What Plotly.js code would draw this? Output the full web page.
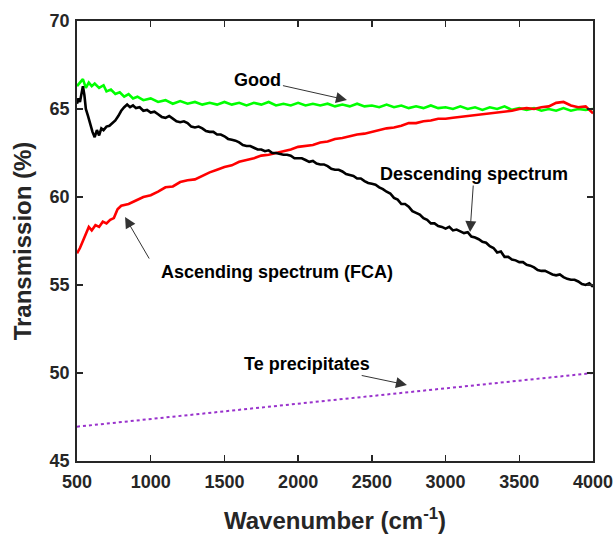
<!DOCTYPE html>
<html>
<head>
<meta charset="utf-8">
<script src="https://cdn.plot.ly/plotly-3.0.1.min.js"></script>
<style>html,body{margin:0;padding:0;background:#fff;}#chart{width:613px;height:534px;}</style>
</head>
<body>
<div id="chart"></div>
<script>
// Good (green)
const goodX = [500,520,540,560,580,600,620,650,680,700,730,760,790,820,850,880,910,950,1000,1050,1100,1150,1200,1250,1300,1350,1400,1450,1500,1550,1600,1650,1700,1750,1800,1850,1900,1950,2000,2050,2100,2150,2200,2250,2300,2350,2400,2450,2500,2550,2600,2650,2700,2750,2800,2850,2900,2950,3000,3050,3100,3150,3200,3250,3300,3350,3400,3450,3500,3550,3600,3650,3700,3750,3800,3850,3900,3950,4000];
const goodY = [66.3,66.5,66.7,66.2,66.5,66.3,66.45,66.2,66.35,66.0,66.1,65.85,65.95,65.7,65.85,65.6,65.7,65.5,65.6,65.4,65.5,65.3,65.45,65.3,65.4,65.25,65.35,65.25,65.4,65.25,65.35,65.2,65.35,65.25,65.4,65.2,65.3,65.2,65.35,65.2,65.3,65.2,65.3,65.15,65.25,65.15,65.3,65.15,65.2,65.1,65.25,65.1,65.2,65.05,65.15,65.05,65.2,65.05,65.1,65.0,65.15,65.0,65.1,64.95,65.1,65.0,65.15,64.95,65.05,64.95,65.05,64.9,65.0,64.9,65.05,64.9,65.0,64.95,65.0];

// Descending spectrum (black)
const descX = [500,510,520,530,540,550,560,575,590,605,620,635,650,665,680,700,720,740,760,780,800,820,840,860,880,900,925,950,975,
  1000,1025,1050,1075,1100,1125,1150,1175,1200,1225,1250,1275,1300,1325,1350,1375,1400,1425,1450,1475,1500,1525,1550,1575,1600,1625,1650,1675,1700,1725,1750,1775,1800,1825,1850,1875,1900,1925,1950,1975,
  2000,2025,2050,2075,2100,2125,2150,2175,2200,2225,2250,2275,2300,2325,2350,2375,2400,2425,2450,2475,2500,2525,2550,2575,2600,2625,2650,2675,2700,2725,2750,2775,2800,2825,2850,2875,2900,2925,2950,2975,
  3000,3025,3050,3075,3100,3125,3150,3175,3200,3225,3250,3275,3300,3325,3350,3375,3400,3425,3450,3475,3500,3525,3550,3575,3600,3625,3650,3675,3700,3725,3750,3775,3800,3825,3850,3875,3900,3925,3950,3975,4000];
const descY = [65.3,65.6,65.4,65.9,66.3,65.8,65.0,64.6,64.1,63.7,63.4,63.8,63.5,63.9,63.8,64.0,64.05,64.2,64.35,64.6,64.9,65.1,65.25,65.1,65.2,65.05,65.1,64.9,64.95,
  64.8,64.85,64.7,64.55,64.5,64.6,64.45,64.3,64.25,64.3,64.2,64.0,63.95,64.0,63.9,63.75,63.7,63.7,63.55,63.55,63.45,63.3,63.25,63.2,63.1,62.95,62.9,62.9,62.8,62.7,62.7,62.6,62.65,62.5,62.5,62.45,62.4,62.4,62.35,62.2,
  62.2,62.2,62.1,62.0,62.05,61.9,61.85,61.85,61.75,61.6,61.55,61.55,61.45,61.3,61.25,61.2,61.05,61.05,60.9,60.8,60.75,60.7,60.55,60.45,60.3,60.2,59.95,59.85,59.6,59.6,59.45,59.2,59.1,59.0,58.8,58.7,58.5,58.5,58.35,58.3,
  58.2,58.3,58.1,58.15,58.05,57.95,58.0,57.75,57.7,57.6,57.45,57.4,57.2,57.1,56.85,56.9,56.6,56.6,56.45,56.4,56.3,56.3,56.15,56.1,56.0,55.85,55.8,55.8,55.7,55.6,55.55,55.6,55.45,55.35,55.3,55.3,55.2,55.05,55.0,55.1,54.9];

// Ascending spectrum (FCA) (red)
const ascX = [500,520,540,560,580,600,625,650,675,700,725,750,775,800,850,900,950,1000,1050,1100,1150,1200,1250,1300,1350,1400,1450,1500,1550,1600,1650,1700,1750,1800,1850,1900,1950,2000,2050,2100,2150,2200,2250,2300,2350,2400,2450,2500,2550,2600,2650,2700,2750,2800,2850,2900,2950,3000,3050,3100,3150,3200,3250,3300,3350,3400,3450,3500,3550,3600,3650,3700,3750,3800,3850,3900,3950,4000];
const ascY = [56.8,57.1,57.5,57.9,58.3,58.1,58.4,58.3,58.6,58.5,58.7,58.8,59.3,59.5,59.6,59.8,60.0,60.1,60.3,60.55,60.6,60.85,60.95,61.0,61.2,61.4,61.55,61.7,61.8,62.0,62.1,62.2,62.35,62.4,62.5,62.6,62.7,62.85,62.9,62.95,63.1,63.15,63.3,63.35,63.45,63.55,63.6,63.7,63.8,63.9,63.95,64.05,64.2,64.2,64.3,64.35,64.45,64.45,64.5,64.55,64.6,64.65,64.7,64.75,64.8,64.85,64.9,65.0,65.05,65.0,65.1,65.15,65.35,65.4,65.2,65.1,65.15,64.75];

// Te precipitates (purple dotted)
const teX = [500,4000];
const teY = [46.95,50.0];

const xTicks = [500,1000,1500,2000,2500,3000,3500,4000];
const yTicks = [45,50,55,60,65,70];

const FONT = 'Liberation Sans, Arial, Helvetica, sans-serif';

const traces = [
  {x: goodX, y: goodY, type:'scatter', mode:'lines', line:{color:'#00ff00', width:2.6}, name:'Good'},
  {x: ascX, y: ascY, type:'scatter', mode:'lines', line:{color:'#ff0000', width:2.6}, name:'Ascending spectrum (FCA)'},
  {x: descX, y: descY, type:'scatter', mode:'lines', line:{color:'#000000', width:2.6}, name:'Descending spectrum'},
  {x: teX, y: teY, type:'scatter', mode:'lines', line:{color:'#9932cc', width:2, dash:'dot'}, name:'Te precipitates'}
];

const ARROW = {showarrow:true, arrowhead:2, arrowsize:2.2, arrowwidth:1, arrowcolor:'#333333', standoff:0, startstandoff:0};
const LFONT = {family:FONT, size:18, color:'#000000', weight:'bold'};

// text + arrow: x,y is the arrow tip, ax/ay the offset of the text centre
function labelArrow(x, y, t, ax, ay) {
  return Object.assign({x:x, y:y, xref:'x', yref:'y', text:t, ax:ax, ay:ay, font:LFONT}, ARROW);
}
function label(x, y, t) {
  return {x:x, y:y, xref:'x', yref:'y', text:t, showarrow:false, font:LFONT, xanchor:'center', yanchor:'middle'};
}
function arrow(x, y, ax, ay) {
  return Object.assign({x:x, y:y, xref:'x', yref:'y', text:'', ax:ax, ay:ay}, ARROW);
}

const layout = {
  width: 613, height: 534,
  margin: {l:77, r:20, t:21, b:73, pad:0},
  paper_bgcolor:'#ffffff', plot_bgcolor:'#ffffff',
  showlegend:false,
  font:{family:FONT, color:'#262626'},
  xaxis: {
    range:[500,4000], tickvals:xTicks, ticktext:xTicks.map(String),
    ticks:'inside', ticklen:6, tickwidth:1.5, tickcolor:'#262626',
    showline:true, linecolor:'#262626', linewidth:1.8, mirror:'ticks',
    showgrid:false, zeroline:false,
    tickfont:{family:FONT, size:18, color:'#262626', weight:'bold'},
    ticklabelstandoff: 4, ticklabeloverflow:'allow',
    title:{text:'Wavenumber (cm<sup>-1</sup>)', font:{family:FONT, size:24, color:'#262626', weight:'bold'}, standoff:22}
  },
  yaxis: {
    range:[45,70], tickvals:yTicks, ticktext:yTicks.map(String),
    ticks:'inside', ticklen:6, tickwidth:1.5, tickcolor:'#262626',
    showline:true, linecolor:'#262626', linewidth:1.8, mirror:'ticks',
    showgrid:false, zeroline:false,
    tickfont:{family:FONT, size:18, color:'#262626', weight:'bold'},
    ticklabelstandoff: 2, ticklabeloverflow:'allow',
    title:{text:'Transmission (%)', font:{family:FONT, size:24, color:'#262626', weight:'bold'}, standoff:11}
  },
  annotations: [
    labelArrow(2331, 65.51, 'Good', -89, -20),
    labelArrow(3166, 58.01, 'Descending spectrum', 4, -58),
    label(1857, 55.74, 'Ascending spectrum (FCA)'),
    arrow(826, 58.86, 25, 43),
    labelArrow(2738, 49.32, 'Te precipitates', -100, -21)
  ]
};

Plotly.newPlot('chart', traces, layout, {displayModeBar:false, staticPlot:true});
</script>
</body>
</html>
